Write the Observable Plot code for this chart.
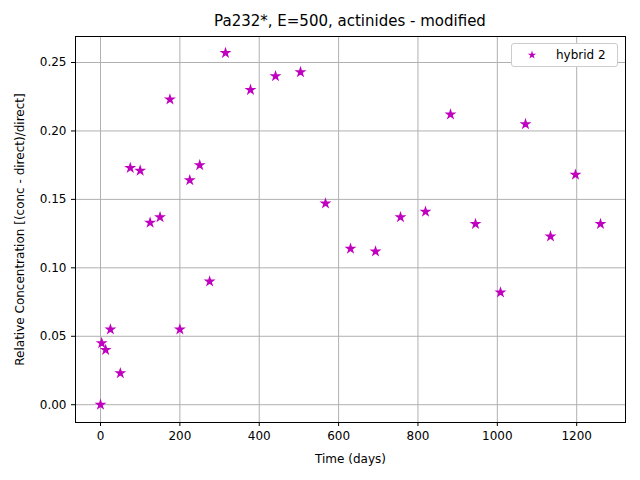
<!DOCTYPE html>
<html><head><meta charset="utf-8">
<script src="https://cdn.jsdelivr.net/npm/d3@7"></script>
<script src="https://cdn.jsdelivr.net/npm/@observablehq/plot@0.6"></script>
<style>
body{margin:0;background:#fff;font-family:"DejaVu Sans",sans-serif;}
#wrap{position:relative;width:640px;height:480px;}
#title{position:absolute;top:12px;left:75px;width:550px;text-align:center;font-size:15px;}
#legend{position:absolute;top:43px;left:511px;width:105px;height:22px;border:1px solid #ccc;border-radius:3px;background:#fff;font-size:12px;}
</style></head><body>
<div id="wrap"><div id="title">Pa232*, E=500, actinides - modified</div></div>
<script>
const days = [0,3,13,25,50,75,100,125,150,175,200,225,250,275,315,378,441,504,567,630,693,756,819,882,945,1008,1071,1134,1197,1260];
const rel = [0,0.045,0.040,0.055,0.023,0.173,0.171,0.133,0.137,0.223,0.055,0.164,0.175,0.090,0.257,0.230,0.240,0.243,0.147,0.114,0.112,0.137,0.141,0.212,0.132,0.082,0.205,0.123,0.168,0.132];
const data = days.map((d,i)=>({d, v: rel[i]}));
const xTicks=[0,200,400,600,800,1000,1200];
const yTicks=[0,0.05,0.10,0.15,0.20,0.25];
const color="#bf00bf";
const chart = Plot.plot({
  width:640,height:480,marginLeft:75,marginRight:15,marginTop:36,marginBottom:58,
  style:{fontFamily:"DejaVu Sans",fontSize:"12px",color:"#000"},
  x:{domain:[-63,1323],ticks:xTicks,tickFormat:d=>String(d),label:"Time (days)",labelArrow:"none",labelAnchor:"center",labelOffset:40,tickSize:4},
  y:{domain:[-0.013,0.269],ticks:yTicks,tickFormat:d3.format(".2f"),label:"Relative Concentration [(conc - direct)/direct]",labelArrow:"none",labelAnchor:"center",labelOffset:60,tickSize:4},
  marks:[
    Plot.gridX(xTicks,{stroke:"#b0b0b0",strokeOpacity:1}),
    Plot.gridY(yTicks,{stroke:"#b0b0b0",strokeOpacity:1}),
    Plot.frame({stroke:"#000"}),
    Plot.dot(data,{x:"d",y:"v",symbol:"star",fill:color,stroke:color,r:2.3})
  ]
});
document.getElementById("wrap").prepend(chart);
chart.style.position="absolute";chart.style.top="0";chart.style.left="0";
const lg=document.createElement("div");lg.id="legend";
lg.innerHTML='<svg width="105" height="22"><path d="'+d3.symbol(d3.symbolStar,22)()+'" transform="translate(20,11)" fill="'+color+'"/><text x="44" y="15" font-size="12" font-family="DejaVu Sans">hybrid 2</text></svg>';
document.getElementById("wrap").appendChild(lg);
</script></body></html>
